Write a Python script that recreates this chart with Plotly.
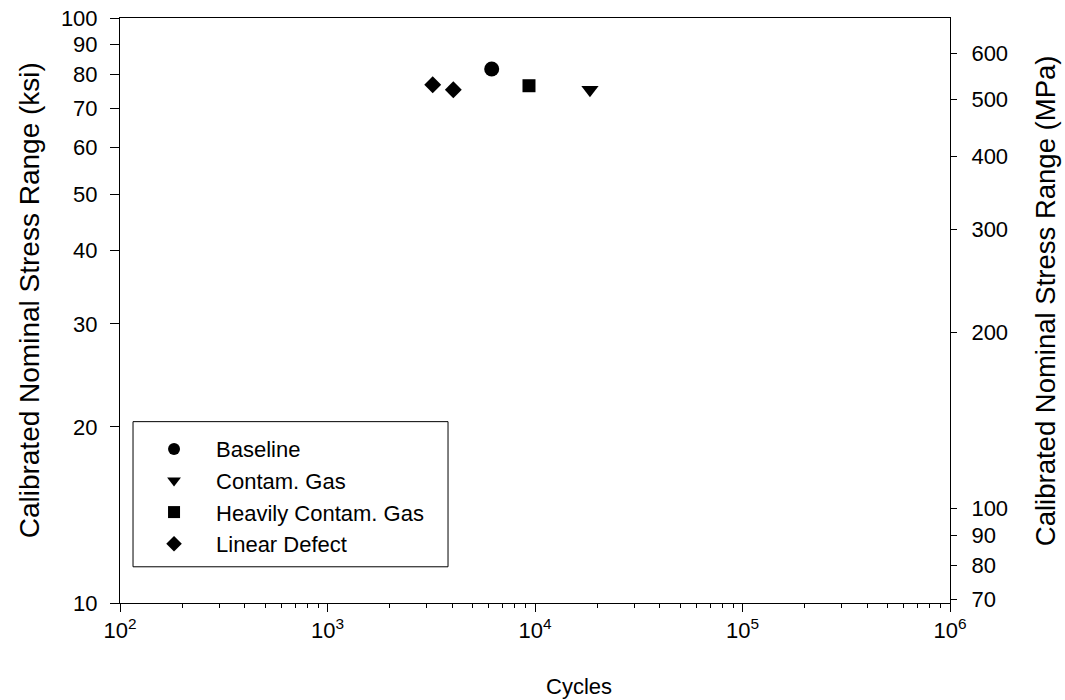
import math
import plotly.graph_objects as go

# Fatigue test results: cycles to failure vs. calibrated nominal stress range
series_names = ["Baseline", "Contam. Gas", "Heavily Contam. Gas", "Linear Defect"]
baseline_cycles = [6185]
baseline_ksi = [81.8]
contam_cycles = [18400]
contam_ksi = [75.4]
heavy_cycles = [9355]
heavy_ksi = [76.6]
linear_cycles = [3214, 4040]
linear_ksi = [76.9, 75.4]

x_tick_vals = [1e2, 1e3, 1e4, 1e5, 1e6]
x_tick_text = ["10<sup>2</sup>", "10<sup>3</sup>", "10<sup>4</sup>", "10<sup>5</sup>", "10<sup>6</sup>"]
ksi_ticks = [10, 20, 30, 40, 50, 60, 70, 80, 90, 100]
mpa_ticks = [70, 80, 90, 100, 200, 300, 400, 500, 600]
KSI_TO_MPA = 6.894757

FONT = "Arial, Liberation Sans, sans-serif"

# minor cycle ticks at 2..9 of each decade
minor_x = [m * 10 ** d for d in range(2, 6) for m in range(2, 10)]

fig = go.Figure()
styles = [
    (baseline_cycles, baseline_ksi, "circle", 15),
    (contam_cycles, contam_ksi, "triangle-down", 15),
    (heavy_cycles, heavy_ksi, "square", 13),
    (linear_cycles, linear_ksi, "diamond", 13),
]
for name, (xs, ys, sym, sz) in zip(series_names, styles):
    fig.add_trace(go.Scatter(
        x=xs, y=ys, name=name, mode="markers",
        marker=dict(symbol=sym, size=sz, color="black", line=dict(width=0)),
    ))

# invisible trace to activate the MPa axis
fig.add_trace(go.Scatter(x=[1e3], y=[100 * KSI_TO_MPA], yaxis="y2",
                         mode="markers", marker=dict(opacity=0),
                         showlegend=False, hoverinfo="skip"))

axis_common = dict(
    showline=True, linecolor="black", linewidth=1,
    ticks="outside", tickwidth=1, tickcolor="black",
    showgrid=False, zeroline=False, automargin=False,
    tickfont=dict(family=FONT, size=22, color="black"),
)

title_font = dict(family=FONT, size=28, color="black")

fig.update_layout(
    width=1065, height=700,
    margin=dict(l=120, r=115, t=18, b=97),
    paper_bgcolor="white", plot_bgcolor="white",
    font=dict(family=FONT, color="black"),
    xaxis=dict(
        type="log", range=[2, 6],
        tickvals=x_tick_vals, ticktext=x_tick_text,
        mirror=True, ticklen=8,
        minor=dict(tickvals=minor_x, ticks="outside", ticklen=4,
                   tickcolor="black", tickwidth=1, showgrid=False),
        **axis_common,
    ),
    yaxis=dict(
        type="log", range=[1, 2], ticklen=9,
        tickvals=ksi_ticks, ticktext=[str(v) for v in ksi_ticks],
        ticklabelstandoff=8,
        **axis_common,
    ),
    yaxis2=dict(
        type="log", overlaying="y", side="right", ticklen=6,
        range=[math.log10(10 * KSI_TO_MPA), math.log10(100 * KSI_TO_MPA)],
        tickvals=mpa_ticks, ticktext=[str(v) for v in mpa_ticks],
        ticklabelstandoff=10,
        **axis_common,
    ),
    legend=dict(
        x=0.0145, y=0.299, xanchor="left", yanchor="top",
        bgcolor="rgba(0,0,0,0)", borderwidth=0,
        font=dict(family=FONT, size=22, color="black"),
        itemwidth=74, itemsizing="constant",
    ),
    shapes=[dict(type="rect", xref="paper", yref="paper",
                 x0=0.0157, x1=0.3952, y0=0.0619, y1=0.31,
                 line=dict(color="black", width=1), fillcolor="rgba(0,0,0,0)")],
    annotations=[
        dict(text="Cycles", xref="paper", yref="paper", x=0.553, y=-0.142,
             xanchor="center", yanchor="middle", showarrow=False,
             font=dict(family=FONT, size=22, color="black")),
        dict(text="Calibrated Nominal Stress Range (ksi)", xref="paper", yref="paper",
             x=-0.108, y=0.518, xanchor="center", yanchor="middle",
             textangle=-90, showarrow=False, font=title_font),
        dict(text="Calibrated Nominal Stress Range (MPa)", xref="paper", yref="paper",
             x=1.1145, y=0.516, xanchor="center", yanchor="middle",
             textangle=-90, showarrow=False,
             font=dict(family=FONT, size=27.5, color="black")),
    ],
)

fig.write_html("out.html")
